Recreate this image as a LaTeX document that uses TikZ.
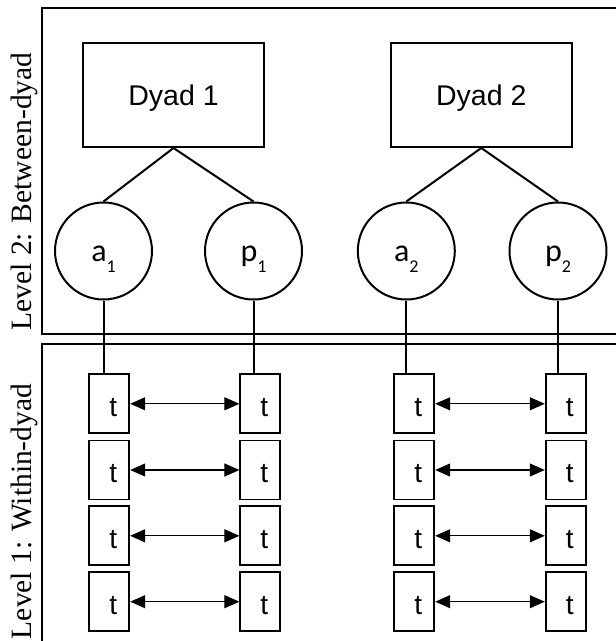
\documentclass[tikz,border=0pt]{standalone}
\usepackage{fontspec}
\setmainfont{Liberation Serif}
\newfontfamily\boxsans{Liberation Sans}
\newfontfamily\circsans{Carlito}
\usetikzlibrary{arrows.meta}
% lowered index digit for the person circles
\newcommand\personidx[1]{\raisebox{-11pt}{\fontsize{18}{19}\selectfont #1}}
\newcommand\occlabel{\hspace*{8pt}t}
\begin{document}
\begin{tikzpicture}[x=1pt,y=-1pt,
  frame/.style={line width=2.2pt},
  dyadbox/.style={draw, line width=2pt, minimum width=181pt, minimum height=104pt,
    inner sep=0pt, font=\boxsans\fontsize{28.5}{30}\selectfont, text height=20pt, text depth=0pt},
  person/.style={draw, circle, line width=2pt, minimum size=97pt, inner sep=0pt,
    font=\circsans\fontsize{32}{33}\selectfont, text height=21pt, text depth=0pt},
  tbox/.style={draw, line width=1.8pt, minimum width=40pt, minimum height=59pt, inner sep=0pt,
    font=\boxsans\fontsize{28}{29}\selectfont, text height=25pt, text depth=0pt},
  link/.style={line width=2pt},
  pair/.style={line width=1.1pt, {Triangle[length=15pt,width=13pt]}-{Triangle[length=15pt,width=13pt]}},
  levellabel/.style={rotate=90, anchor=base, inner sep=0pt, font=\fontsize{29.5}{31}\selectfont}
]
\useasboundingbox (0,0) rectangle (616,641);

% level frames
\draw[frame] (618,8.3) -- (41.7,8.3) -- (41.7,334) -- (618,334);
\draw[frame] (618,344) -- (41.7,344) -- (41.7,643);

% level labels
\node[levellabel] (lv2) at (31.7,191.5) {Level 2: Between-dyad};
\node[levellabel] (lv1) at (31.7,511.5) {Level 1: Within-dyad};

% dyads
\node[dyadbox] (d1) at (173.5,95) {Dyad 1};
\node[dyadbox] (d2) at (481.3,95) {Dyad 2};

% actors and partners
\node[person] (a1) at (103.5,251) {a\personidx{1}};
\node[person] (p1) at (253.5,251) {p\personidx{1}};
\node[person] (a2) at (406.3,251) {a\personidx{2}};
\node[person] (p2) at (558,251) {p\personidx{2}};

\draw[link] (d1.south) -- (a1.north);
\draw[link] (d1.south) -- (p1.north);
\draw[link] (d2.south) -- (a2.north);
\draw[link] (d2.south) -- (p2.north);

% repeated occasions
\foreach \r/\y in {1/403.8,2/470,3/535.8,4/601.7} {
  \node[tbox] (a1t\r) at (109.3,\y) {\occlabel};
  \node[tbox] (p1t\r) at (260.3,\y) {\occlabel};
  \node[tbox] (a2t\r) at (414.3,\y) {\occlabel};
  \node[tbox] (p2t\r) at (565.7,\y) {\occlabel};
  \draw[pair] (a1t\r.east) -- (p1t\r.west);
  \draw[pair] (a2t\r.east) -- (p2t\r.west);
}

\draw[link] (a1.south) -- (a1.south |- a1t1.north);
\draw[link] (p1.south) -- (p1.south |- p1t1.north);
\draw[link] (a2.south) -- (a2.south |- a2t1.north);
\draw[link] (p2.south) -- (p2.south |- p2t1.north);
\end{tikzpicture}
\end{document}
